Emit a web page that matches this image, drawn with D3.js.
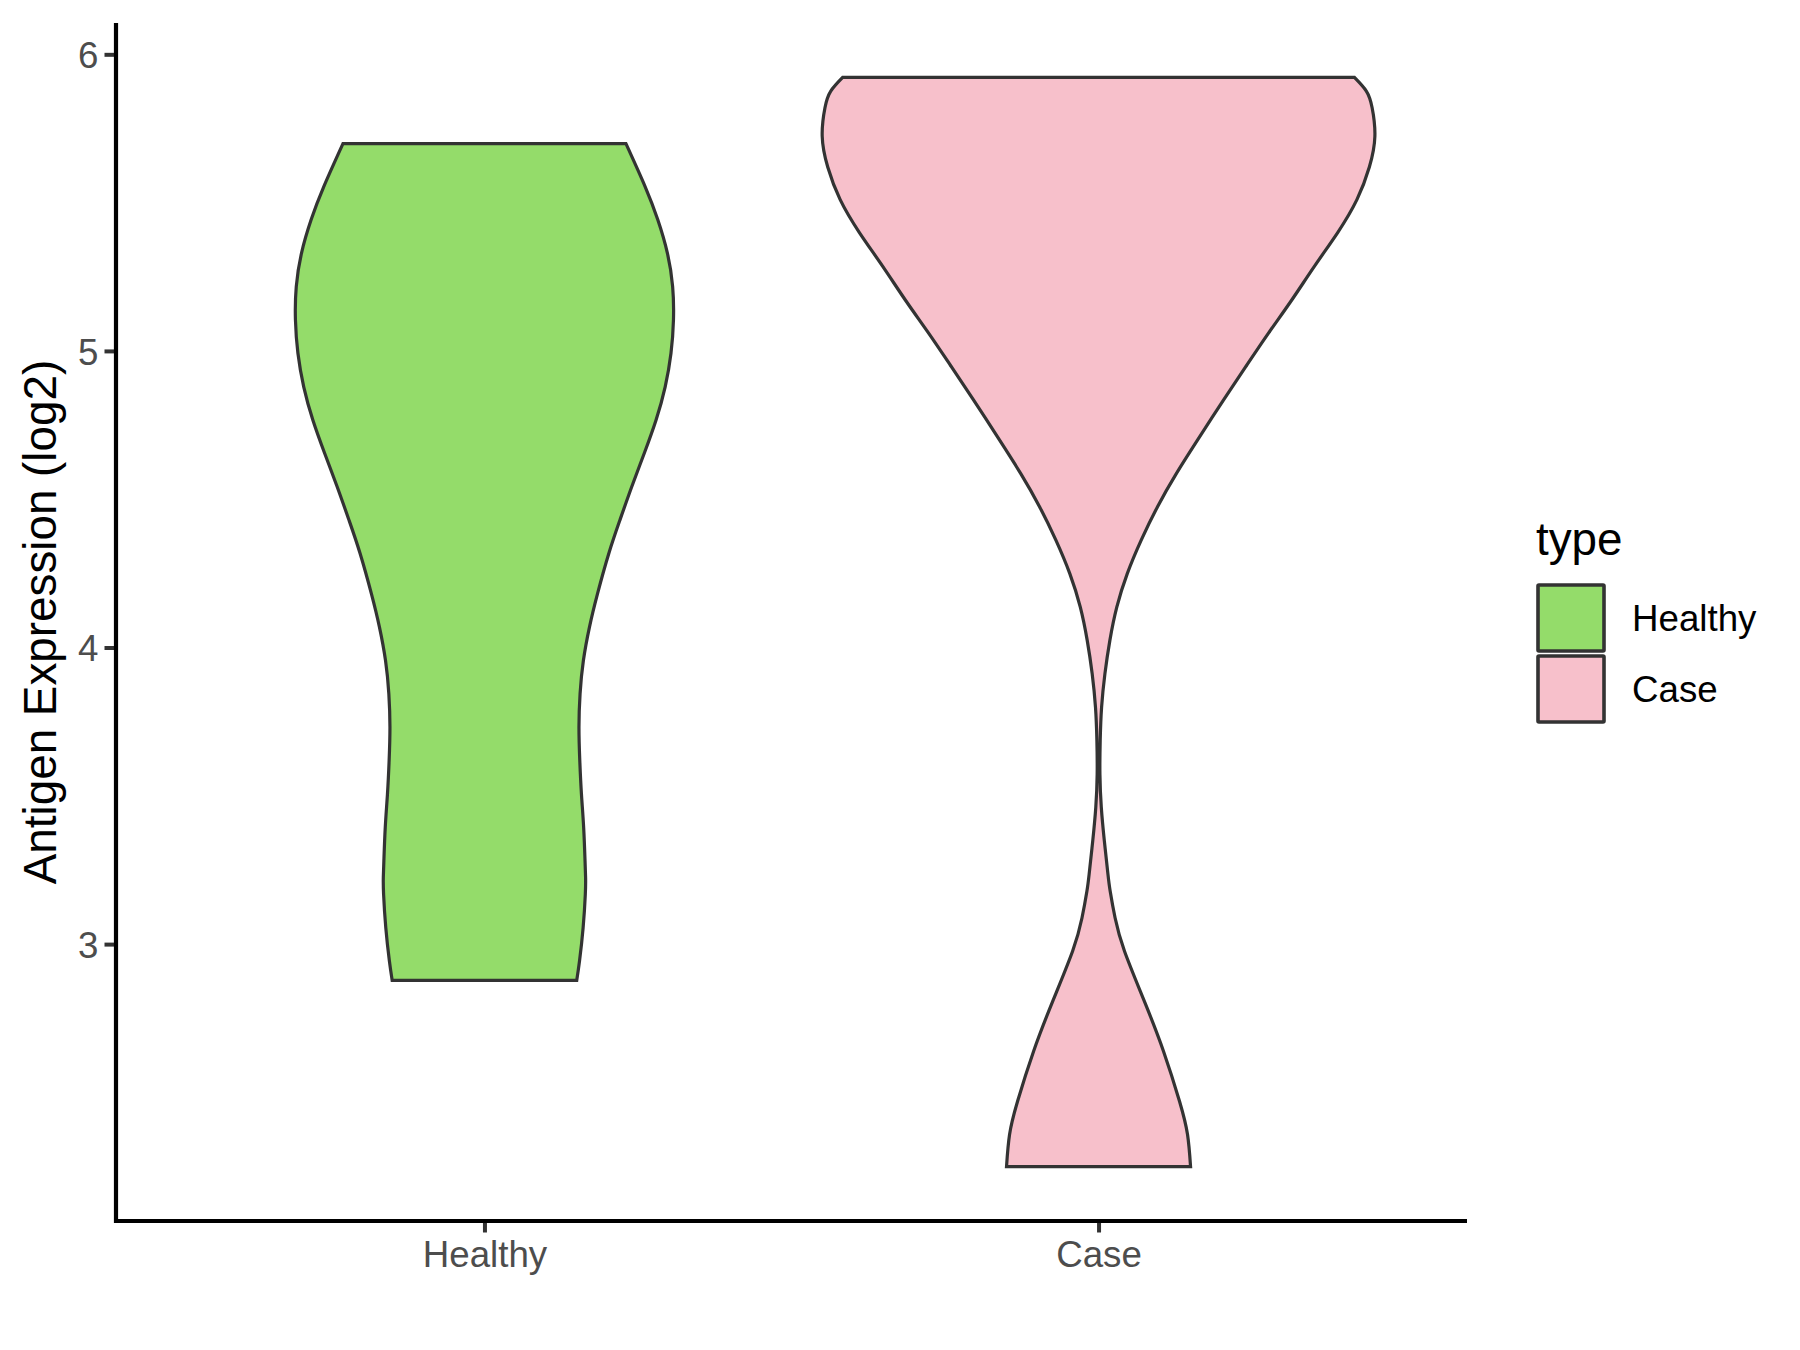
<!DOCTYPE html>
<html>
<head>
<meta charset="utf-8">
<script src="https://cdn.jsdelivr.net/npm/d3@7"></script>
<style>
  html, body { margin: 0; padding: 0; background: #ffffff; }
  svg { display: block; font-family: "Liberation Sans", Arial, sans-serif; }
</style>
</head>
<body>
<svg id="chart" width="1800" height="1350"></svg>
<script>
// ---- Data ----
const categories = ["Healthy", "Case"];
const fillColors = ["#94DC6A", "#F7C0CB"];
const yTicks = [3, 4, 5, 6];
const yTitle = "Antigen Expression (log2)";
const legendTitle = "type";

// Violin density profiles: expression value and relative density
const healthyValues = [5.699, 5.555, 5.443, 5.330, 5.217, 5.105, 4.992, 4.879, 4.767, 4.654, 4.542, 4.429, 4.317, 4.181, 4.069, 3.956, 3.844, 3.731, 3.618, 3.506, 3.393, 3.280, 3.224, 3.168, 3.055, 2.943, 2.878];
const healthyDensity = [0.512, 0.581, 0.627, 0.662, 0.681, 0.684, 0.675, 0.654, 0.621, 0.578, 0.533, 0.490, 0.450, 0.409, 0.380, 0.358, 0.346, 0.342, 0.345, 0.351, 0.359, 0.364, 0.366, 0.365, 0.357, 0.344, 0.334];

const caseValues = [5.922, 5.876, 5.820, 5.724, 5.620, 5.510, 5.400, 5.285, 5.170, 5.060, 4.950, 4.834, 4.699, 4.587, 4.474, 4.361, 4.249, 4.136, 4.024, 3.911, 3.798, 3.686, 3.573, 3.461, 3.348, 3.236, 3.179, 3.088, 2.976, 2.807, 2.639, 2.470, 2.358, 2.250];
const caseDensity = [0.926, 0.969, 0.990, 1.000, 0.980, 0.935, 0.866, 0.781, 0.698, 0.615, 0.535, 0.452, 0.358, 0.282, 0.213, 0.154, 0.104, 0.066, 0.041, 0.023, 0.011, 0.006, 0.005, 0.010, 0.021, 0.034, 0.042, 0.060, 0.094, 0.166, 0.235, 0.293, 0.322, 0.333];

// ---- Layout ----
const panel = { left: 116, right: 1467, top: 23, bottom: 1221 };
const svg = d3.select("#chart");

const series = [
  { name: categories[0], values: healthyValues, density: healthyDensity, fill: fillColors[0] },
  { name: categories[1], values: caseValues, density: caseDensity, fill: fillColors[1] }
];

const allVals = healthyValues.concat(caseValues);
const vMin = d3.min(allVals), vMax = d3.max(allVals);
const pad = (vMax - vMin) * 0.05;

const y = d3.scaleLinear().domain([vMin - pad, vMax + pad]).range([panel.bottom, panel.top]);
const x = d3.scalePoint().domain(categories).range([panel.left, panel.right]).padding(0.6);
const maxDens = d3.max(series, s => d3.max(s.density));
const w = d3.scaleLinear().domain([0, maxDens]).range([0, 0.45 * x.step()]);

// ---- Violins ----
series.forEach(s => {
  const pts = s.values.map((v, i) => ({ v: v, d: s.density[i] }));
  const cx = x(s.name);
  const area = d3.area()
    .y(p => y(p.v))
    .x0(p => cx - w(p.d))
    .x1(p => cx + w(p.d))
    .curve(d3.curveNatural);
  svg.append("path")
    .datum(pts)
    .attr("d", area)
    .attr("fill", s.fill)
    .attr("stroke", "#333333")
    .attr("stroke-width", 3.2)
    .attr("stroke-linejoin", "miter");
});

// ---- Axes ----
const yAxis = d3.axisLeft(y).tickValues(yTicks).tickSize(11.5).tickPadding(6).tickFormat(d3.format("d"));
const gy = svg.append("g").attr("transform", `translate(${panel.left},0)`).call(yAxis);
gy.select(".domain").remove();
gy.selectAll(".tick line").attr("stroke", "#333333").attr("stroke-width", 4);
gy.selectAll(".tick text").attr("fill", "#4D4D4D").style("font-size", "36.7px")
  .style("font-family", "'Liberation Sans', Arial, sans-serif").attr("dy", "0.36em");

const xAxis = d3.axisBottom(x).tickSize(11.5).tickPadding(7);
const gx = svg.append("g").attr("transform", `translate(0,${panel.bottom})`).call(xAxis);
gx.select(".domain").remove();
gx.selectAll(".tick line").attr("stroke", "#333333").attr("stroke-width", 4);
gx.selectAll(".tick text").attr("fill", "#4D4D4D").style("font-size", "36.7px")
  .style("font-family", "'Liberation Sans', Arial, sans-serif").attr("dy", "0.74em");

// axis lines
svg.append("line").attr("x1", panel.left).attr("x2", panel.left)
  .attr("y1", panel.top).attr("y2", panel.bottom + 2)
  .attr("stroke", "#000").attr("stroke-width", 4.2);
svg.append("line").attr("x1", panel.left - 2).attr("x2", panel.right)
  .attr("y1", panel.bottom).attr("y2", panel.bottom)
  .attr("stroke", "#000").attr("stroke-width", 4.2);

// y title
svg.append("text")
  .attr("transform", `translate(56,${(panel.top + panel.bottom) / 2}) rotate(-90)`)
  .attr("text-anchor", "middle")
  .attr("fill", "#000")
  .style("font-size", "45.8px")
  .text(yTitle);

// ---- Legend ----
const lg = svg.append("g");
lg.append("text").attr("x", 1536).attr("y", 555).attr("fill", "#000")
  .style("font-size", "45.8px").text(legendTitle);
series.forEach((s, i) => {
  const top = 585 + i * 71;
  lg.append("rect").attr("x", 1538).attr("y", top).attr("width", 66).attr("height", 66)
    .attr("fill", s.fill).attr("stroke", "#333333").attr("stroke-width", 3.6)
    .attr("rx", 1);
  lg.append("text").attr("x", 1632).attr("y", top + 33).attr("dy", "0.36em")
    .attr("fill", "#000").style("font-size", "36.7px").text(s.name);
});
</script>
</body>
</html>
